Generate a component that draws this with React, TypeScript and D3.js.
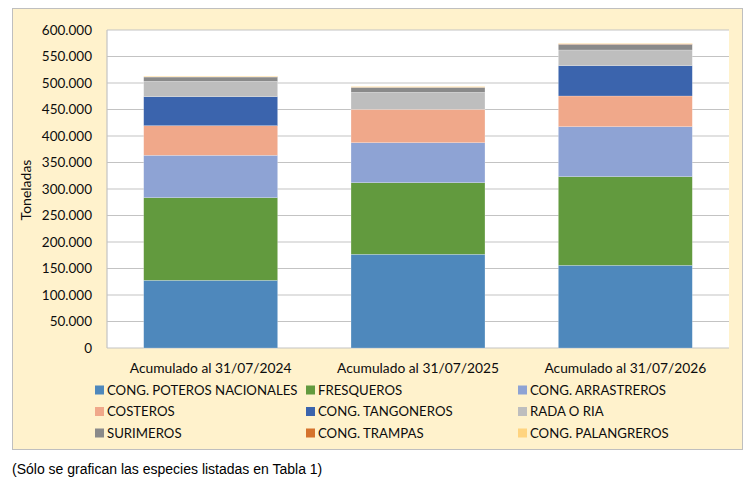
import { useEffect, useRef } from 'react';
import * as d3 from 'd3';

const categories = ['Acumulado al 31/07/2024', 'Acumulado al 31/07/2025', 'Acumulado al 31/07/2026'];

const seriesNames = [
  'CONG. POTEROS NACIONALES',
  'FRESQUEROS',
  'CONG. ARRASTREROS',
  'COSTEROS',
  'CONG. TANGONEROS',
  'RADA O RIA',
  'SURIMEROS',
  'CONG. TRAMPAS',
  'CONG. PALANGREROS',
];

// toneladas per category, one array per fleet
const poteros = [127700, 176800, 156000];
const fresqueros = [155900, 135100, 167300];
const arrastreros = [80000, 75500, 94300];
const costeros = [55900, 62900, 57900];
const tangoneros = [54700, 0, 57200];
const radaRia = [28900, 32100, 29600];
const surimeros = [8200, 9400, 10700];
const trampas = [200, 300, 700];
const palangreros = [1200, 1200, 1000];

const seriesValues = [poteros, fresqueros, arrastreros, costeros, tangoneros, radaRia, surimeros, trampas, palangreros];

const colors = ['#4e88bc', '#629a3e', '#8ea3d4', '#f0a88a', '#3b64ad', '#bebebe', '#8a8a8a', '#d5732d', '#ffd47f'];

const yTicks = [0, 50000, 100000, 150000, 200000, 250000, 300000, 350000, 400000, 450000, 500000, 550000, 600000];

const fmt = (v: number) => (v === 0 ? '0' : d3.format(',')(v).replace(/,/g, '.'));

const App = () => {
  const ref = useRef<SVGSVGElement | null>(null);

  useEffect(() => {
    if (!ref.current) return;
    const svg = d3.select(ref.current);
    svg.selectAll('*').remove();

    const font = "Lato, 'Open Sans', sans-serif";
    const ink = '#0d0d0d';

    // outer chart frame
    svg.append('rect')
      .attr('x', 12.5).attr('y', 8.5)
      .attr('width', 730).attr('height', 441)
      .attr('fill', '#fff2cc')
      .attr('stroke', '#bfbfbf');

    const plot = { left: 107, right: 729, top: 30, bottom: 348 };

    svg.append('rect')
      .attr('x', plot.left).attr('y', plot.top)
      .attr('width', plot.right - plot.left).attr('height', plot.bottom - plot.top)
      .attr('fill', '#ffffff');

    const x = d3.scaleBand()
      .domain(categories)
      .range([plot.left, plot.right])
      .paddingInner(0.354)
      .paddingOuter(0.177);

    const y = d3.scaleLinear()
      .domain([0, 600000])
      .range([plot.bottom, plot.top]);

    // gridlines
    svg.append('g')
      .selectAll('line')
      .data(yTicks)
      .enter()
      .append('line')
      .attr('x1', plot.left).attr('x2', plot.right)
      .attr('y1', d => y(d)).attr('y2', d => y(d))
      .attr('stroke', '#c3c3c3')
      .attr('stroke-width', 1.2);

    // y labels
    svg.append('g')
      .selectAll('text')
      .data(yTicks)
      .enter()
      .append('text')
      .attr('x', 92)
      .attr('y', d => y(d))
      .attr('dy', '0.35em')
      .attr('text-anchor', 'end')
      .style('font-family', font)
      .style('font-size', '13.5px')
      .attr('fill', ink)
      .text(d => fmt(d));

    // left axis line
    svg.append('line')
      .attr('x1', plot.left).attr('x2', plot.left)
      .attr('y1', plot.top).attr('y2', plot.bottom)
      .attr('stroke', '#c3c3c3')
      .attr('stroke-width', 1.2);

    // stacked bars
    const rows = categories.map((c, i) => {
      const r: Record<string, number | string> = { cat: c };
      seriesNames.forEach((s, j) => { r[s] = seriesValues[j][i]; });
      return r;
    });
    const stack = d3.stack<Record<string, number | string>>().keys(seriesNames)(rows);

    svg.append('g')
      .selectAll('g')
      .data(stack)
      .enter()
      .append('g')
      .attr('fill', (_d, i) => colors[i])
      .selectAll('rect')
      .data(d => d)
      .enter()
      .append('rect')
      .attr('x', d => x(d.data.cat as string) || 0)
      .attr('width', x.bandwidth())
      .attr('y', d => y(d[1]))
      .attr('height', d => y(d[0]) - y(d[1]))
      .attr('stroke', 'rgba(255,255,255,0.35)')
      .attr('stroke-width', 0.6);

    // x labels
    svg.append('g')
      .selectAll('text')
      .data(categories)
      .enter()
      .append('text')
      .attr('x', d => (x(d) || 0) + x.bandwidth() / 2)
      .attr('y', 373)
      .attr('text-anchor', 'middle')
      .style('font-family', font)
      .style('font-size', '13.8px')
      .attr('fill', ink)
      .text(d => d);

    // y title
    svg.append('text')
      .attr('transform', 'translate(31,190) rotate(-90)')
      .attr('text-anchor', 'middle')
      .style('font-family', font)
      .style('font-size', '14px')
      .attr('fill', ink)
      .text('Toneladas');

    // legend, 3 columns
    const colX = [95, 306, 518];
    const rowY = [390, 411.5, 433];
    const legend = svg.append('g')
      .selectAll('g')
      .data(seriesNames)
      .enter()
      .append('g')
      .attr('transform', (_d, i) => `translate(${colX[i % 3]},${rowY[Math.floor(i / 3)]})`);
    legend.append('rect')
      .attr('x', 0).attr('y', -4.5)
      .attr('width', 9).attr('height', 9)
      .attr('fill', (_d, i) => colors[i]);
    legend.append('text')
      .attr('x', 12)
      .attr('dy', '0.36em')
      .style('font-family', font)
      .style('font-size', '13.2px')
      .attr('fill', ink)
      .text(d => d);

    // footnote
    svg.append('text')
      .attr('x', 12)
      .attr('y', 474)
      .style('font-family', "'Liberation Sans', Arial, sans-serif")
      .style('font-size', '14px')
      .attr('fill', '#000')
      .text('(Sólo se grafican las especies listadas en Tabla 1)');
  }, []);

  return (
    <svg
      ref={ref}
      width={750}
      height={482}
      style={{ position: 'absolute', left: 0, top: 0, background: '#fff' }}
    />
  );
};

export default App;
